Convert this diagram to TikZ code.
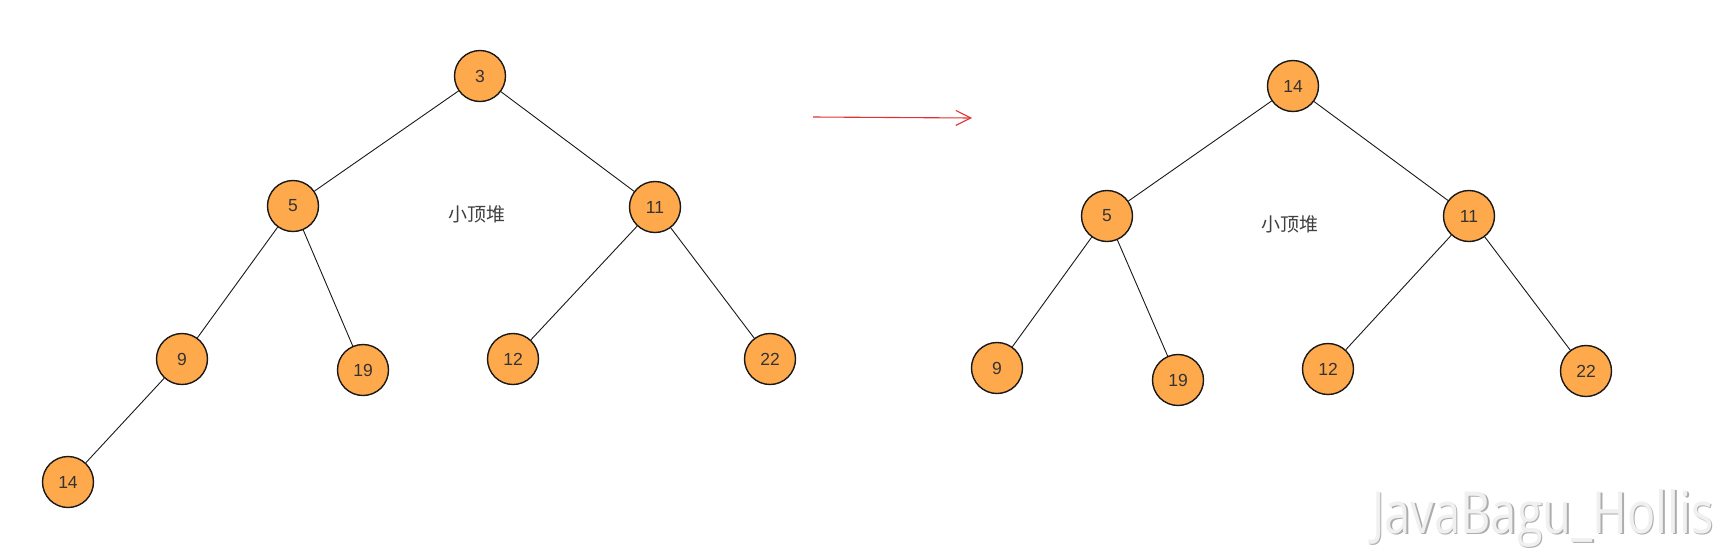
\documentclass[tikz,border=0pt]{standalone}
\usepackage{fontspec}
\setmainfont{Liberation Sans}
\newfontfamily\cjk{Noto Sans CJK SC}
\newfontfamily\markfont{Open Sans}
\usepackage{tikz}
\usepackage{xcolor}
\usetikzlibrary{arrows.meta}
\definecolor{heaporange}{HTML}{FFA94D}
\definecolor{arrowred}{HTML}{E03131}

\begin{document}
\begin{tikzpicture}[x=1pt,y=-1pt,
    hnode/.style={circle,draw=black!90,fill=heaporange,line width=1.4pt,minimum size=51pt,inner sep=0pt,font=\fontsize{17.5}{18}\selectfont,text=black!80},
    hedge/.style={draw=black!90,line width=0.9pt},
    hlabel/.style={font=\cjk\fontsize{19}{20}\selectfont,text=black!75},
    wmark/.style={anchor=base west,inner sep=0pt,font=\markfont\fontsize{58}{60}\selectfont}]
    \useasboundingbox (0,0) rectangle (1719,547);

    \node[hnode](a3) at (480,76){3};
    \node[hnode](a5) at (293,206){5};
    \node[hnode](a11) at (655,207){11};
    \node[hnode](a9) at (182,359){9};
    \node[hnode](a19) at (363,370){19};
    \node[hnode](a12) at (513,359){12};
    \node[hnode](a22) at (770,359){22};
    \node[hnode](a14) at (68,482){14};
    \node[hlabel](atxt) at (477,214){小顶堆};

    \draw[hedge] (a3) -- (a5);
    \draw[hedge] (a3) -- (a11);
    \draw[hedge] (a5) -- (a9);
    \draw[hedge] (a5) -- (a19);
    \draw[hedge] (a11) -- (a12);
    \draw[hedge] (a11) -- (a22);
    \draw[hedge] (a9) -- (a14);

    \coordinate (arrowstart) at (813,117);
    \coordinate (arrowend) at (972,118);
    \draw[arrowred,line width=1.1pt,-{Straight Barb[length=15pt,width=15pt]}] (arrowstart) -- (arrowend);

    \node[hnode](b14) at (1293,86){14};
    \node[hnode](b5) at (1107,216){5};
    \node[hnode](b11) at (1469,216){11};
    \node[hnode](b9) at (997,368){9};
    \node[hnode](b19) at (1178,380){19};
    \node[hnode](b12) at (1328,369){12};
    \node[hnode](b22) at (1586,371){22};
    \node[hlabel](btxt) at (1290,224){小顶堆};

    \draw[hedge] (b14) -- (b5);
    \draw[hedge] (b14) -- (b11);
    \draw[hedge] (b5) -- (b9);
    \draw[hedge] (b5) -- (b19);
    \draw[hedge] (b11) -- (b12);
    \draw[hedge] (b11) -- (b22);

    \node[wmark,text=black!32](wshadow) at (1373.5,534.5){\scalebox{0.81}[1]{JavaBagu\_Hollis}};
    \node[wmark,text=black!6](wtext) at (1372,533){\scalebox{0.81}[1]{JavaBagu\_Hollis}};
\end{tikzpicture}
\end{document}
